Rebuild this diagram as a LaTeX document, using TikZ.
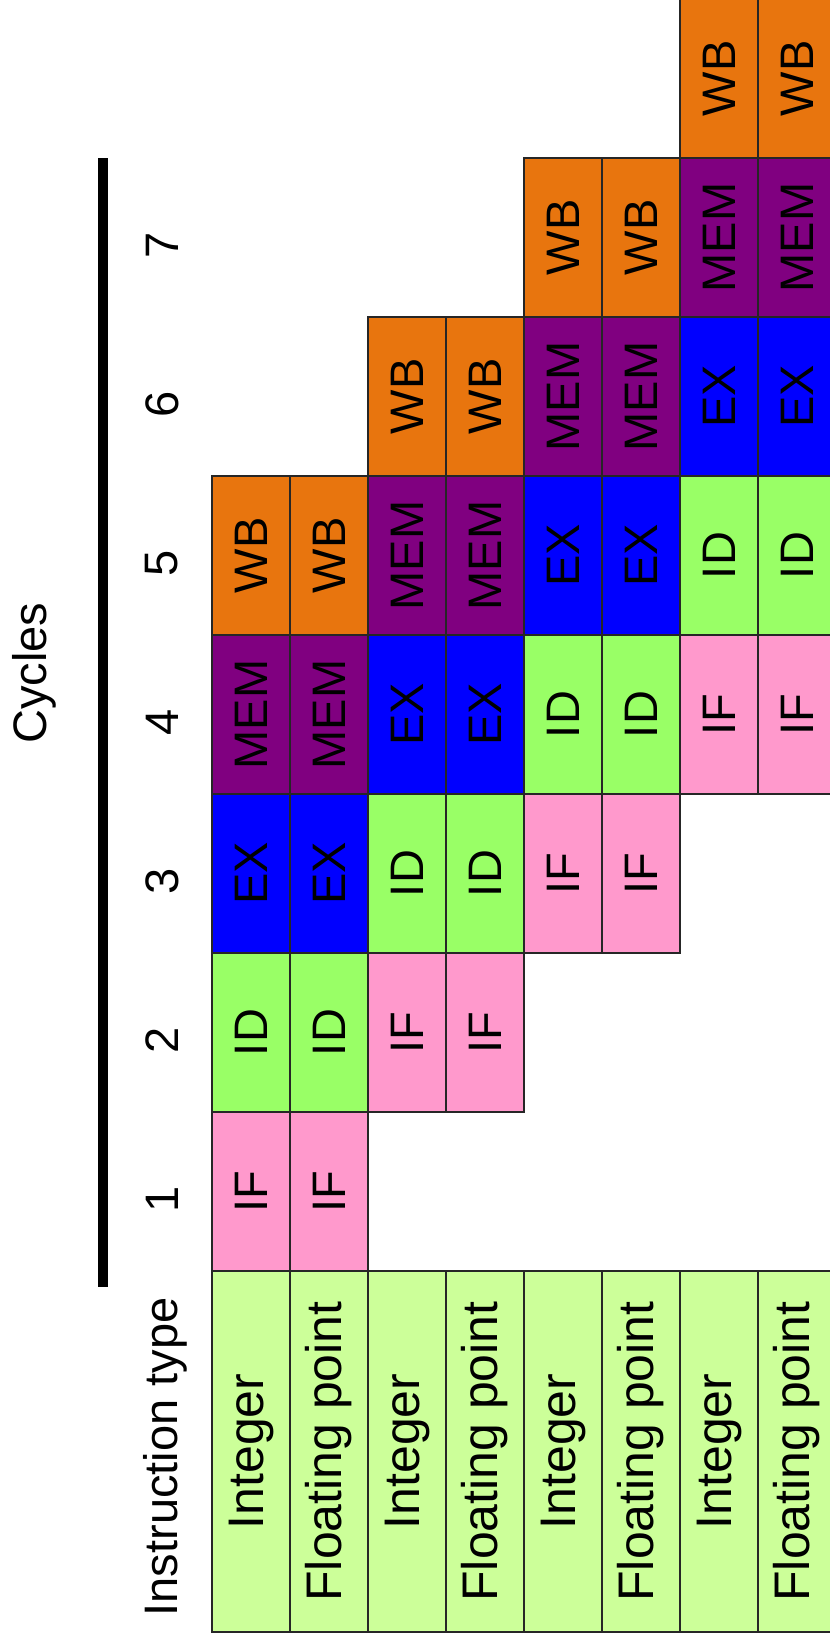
\documentclass[tikz,border=0pt]{standalone}
\usepackage{fontspec}
\setmainfont{Liberation Sans}
\usetikzlibrary{positioning}
\definecolor{ifpink}{HTML}{FF99CC}
\definecolor{idgreen}{HTML}{99FF66}
\definecolor{exblue}{HTML}{0000FF}
\definecolor{mempurple}{HTML}{800080}
\definecolor{wborange}{HTML}{E8750E}
\definecolor{typegreen}{HTML}{CCFF99}

\tikzset{
  stagecell/.style={draw=black!85, line width=1.5pt, rotate=90,
    minimum width=159pt, minimum height=78pt, inner sep=0pt,
    font=\fontsize{47}{56}\selectfont},
  typecell/.style={stagecell, fill=typegreen, minimum width=361pt,
    font=\fontsize{50}{60}\selectfont},
  headtext/.style={rotate=90, inner sep=0pt, font=\fontsize{47}{56}\selectfont}
}

\begin{document}
\begin{tikzpicture}[x=1pt, y=-1pt]
  \useasboundingbox (0,0) rectangle (830,1644);

  % instruction types
  \foreach \k/\name in {0/Integer, 1/Floating point, 2/Integer, 3/Floating point,
                        4/Integer, 5/Floating point, 6/Integer, 7/Floating point} {
    \node[typecell] (type-\k) at ({251+78*\k},1451.5) {\name};
  }

  % pipeline stages, two instructions per cycle
  \foreach \k in {0,...,7} {
    \pgfmathtruncatemacro{\pair}{int(\k/2)}
    \foreach \s/\stage/\col in {1/IF/ifpink, 2/ID/idgreen, 3/EX/exblue,
                                4/MEM/mempurple, 5/WB/wborange} {
      \pgfmathtruncatemacro{\cyc}{\pair+\s}
      \node[stagecell, fill=\col] (stage-\k-\s)
        at ({251+78*\k},{1191.5-159*(\cyc-1)}) {\stage};
    }
  }

  % header
  \coordinate (rule-top) at (103,158);
  \coordinate (rule-bot) at (103,1287);
  \draw[line width=10pt] (rule-top) -- (rule-bot);
  \node[headtext] (cycles) at (34,673) {Cycles};
  \node[headtext] (itype) at (165,1457) {Instruction type};
  \foreach \c in {1,...,7} {
    \node[headtext] (num-\c) at (162,{1199.5-159*(\c-1)}) {\c};
  }
\end{tikzpicture}
\end{document}
